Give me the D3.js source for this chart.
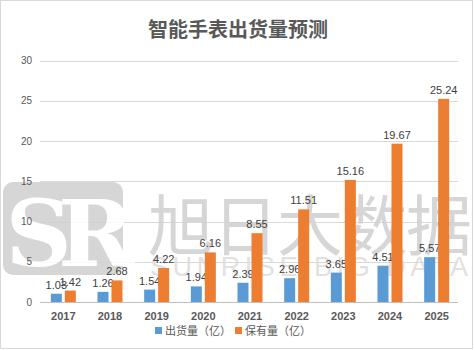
<!DOCTYPE html>
<meta charset="utf-8">
<title>智能手表出货量预测</title>
<script src="https://d3js.org/d3.v7.min.js"></script>
<style>
  body { margin: 0; background: #fff; }
  svg text { font-family: "Liberation Sans", "Noto Sans CJK SC", sans-serif; }
</style>
<div id="chart"></div>
<script>
// data
var years = ["2017", "2018", "2019", "2020", "2021", "2022", "2023", "2024", "2025"];
var shipments = [1.03, 1.26, 1.54, 1.94, 2.39, 2.96, 3.65, 4.51, 5.57];
var installed = [1.42, 2.68, 4.22, 6.16, 8.55, 11.51, 15.16, 19.67, 25.24];
var seriesNames = ["出货量（亿）", "保有量（亿）"];
var yTicks = [0, 5, 10, 15, 20, 25, 30];

var W = 474, H = 350;
var svg = d3.select("#chart").append("svg")
    .attr("width", W).attr("height", H);

svg.append("rect")
    .attr("x", 0.5).attr("y", 0.5).attr("width", W - 2).attr("height", H - 2)
    .attr("fill", "#fff").attr("stroke", "#d9d9d9");

var x = d3.scaleBand().domain(years).range([40, 460]);
var y = d3.scaleLinear().domain([0, 30]).range([302, 60.5]);
var color = ["#5B9BD5", "#ED7D31"];

// gridlines
svg.append("g").selectAll("line").data(yTicks).enter().append("line")
    .attr("x1", 40).attr("x2", 458)
    .attr("y1", function(d) { return Math.round(y(d)) + 0.5; })
    .attr("y2", function(d) { return Math.round(y(d)) + 0.5; })
    .attr("stroke", function(d) { return d === 0 ? "#bfbfbf" : "#d9d9d9"; })
    .attr("stroke-width", 1);

// watermark
var wm = svg.append("g").attr("opacity", 0.85);
wm.append("rect").attr("x", 3).attr("y", 182).attr("width", 120).attr("height", 93)
    .attr("rx", 10).attr("fill", "#d0d0d0");
wm.append("text").attr("x", 63).attr("y", 266).attr("text-anchor", "middle")
    .style("font-family", "DejaVu Serif, serif").style("font-weight", "bold")
    .style("font-size", "92px").attr("fill", "#fff").attr("letter-spacing", "-14")
    .text("SR");
wm.append("text").attr("x", 148).attr("y", 250)
    .style("font-family", "Noto Sans CJK SC").style("font-size", "66px")
    .attr("fill", "#d0d0d0").attr("textLength", 324).text("旭日大数据");
wm.append("text").attr("x", 150).attr("y", 276)
    .style("font-size", "27px").attr("fill", "#dcdcdc")
    .attr("textLength", 318).text("SUNRISE BIG DATA");

// y axis labels
svg.append("g").selectAll("text").data(yTicks).enter().append("text")
    .attr("x", 32).attr("y", function(d) { return y(d) + 3.5; })
    .attr("text-anchor", "end").style("font-size", "10px").attr("fill", "#595959")
    .text(function(d) { return d; });

var bw = 11, gap = 3;
var series = [shipments, installed];
series.forEach(function(vals, s) {
  var off = s === 0 ? -(bw + gap / 2) : gap / 2;
  var g = svg.append("g");
  g.selectAll("rect").data(vals).enter().append("rect")
      .attr("x", function(d, i) { return x(years[i]) + x.bandwidth() / 2 + off; })
      .attr("y", function(d) { return y(d); })
      .attr("width", bw)
      .attr("height", function(d) { return y(0) - y(d); })
      .attr("fill", color[s]);
  g.selectAll("text").data(vals).enter().append("text")
      .attr("x", function(d, i) { return x(years[i]) + x.bandwidth() / 2 + off + bw / 2; })
      .attr("y", function(d) { return y(d) - 5; })
      .attr("text-anchor", "middle").style("font-size", "11px").attr("fill", "#404040")
      .text(function(d) { return d.toFixed(2); });
});

// x labels
svg.append("g").selectAll("text").data(years).enter().append("text")
    .attr("x", function(d) { return x(d) + x.bandwidth() / 2; })
    .attr("y", 320).attr("text-anchor", "middle")
    .style("font-size", "11px").style("font-weight", "bold").attr("fill", "#595959")
    .text(function(d) { return d; });

// legend
var legX = [155, 235];
seriesNames.forEach(function(n, i) {
  svg.append("rect").attr("x", legX[i]).attr("y", 327).attr("width", 7).attr("height", 7)
      .attr("fill", color[i]);
  svg.append("text").attr("x", legX[i] + 10).attr("y", 335)
      .style("font-family", "Noto Sans CJK SC").style("font-size", "11px").attr("fill", "#595959")
      .text(n);
});

// title
svg.append("text").attr("x", 238).attr("y", 37).attr("text-anchor", "middle")
    .style("font-family", "Noto Sans CJK SC").style("font-size", "20px").style("font-weight", "bold")
    .attr("fill", "#595959").text("智能手表出货量预测");
</script>
